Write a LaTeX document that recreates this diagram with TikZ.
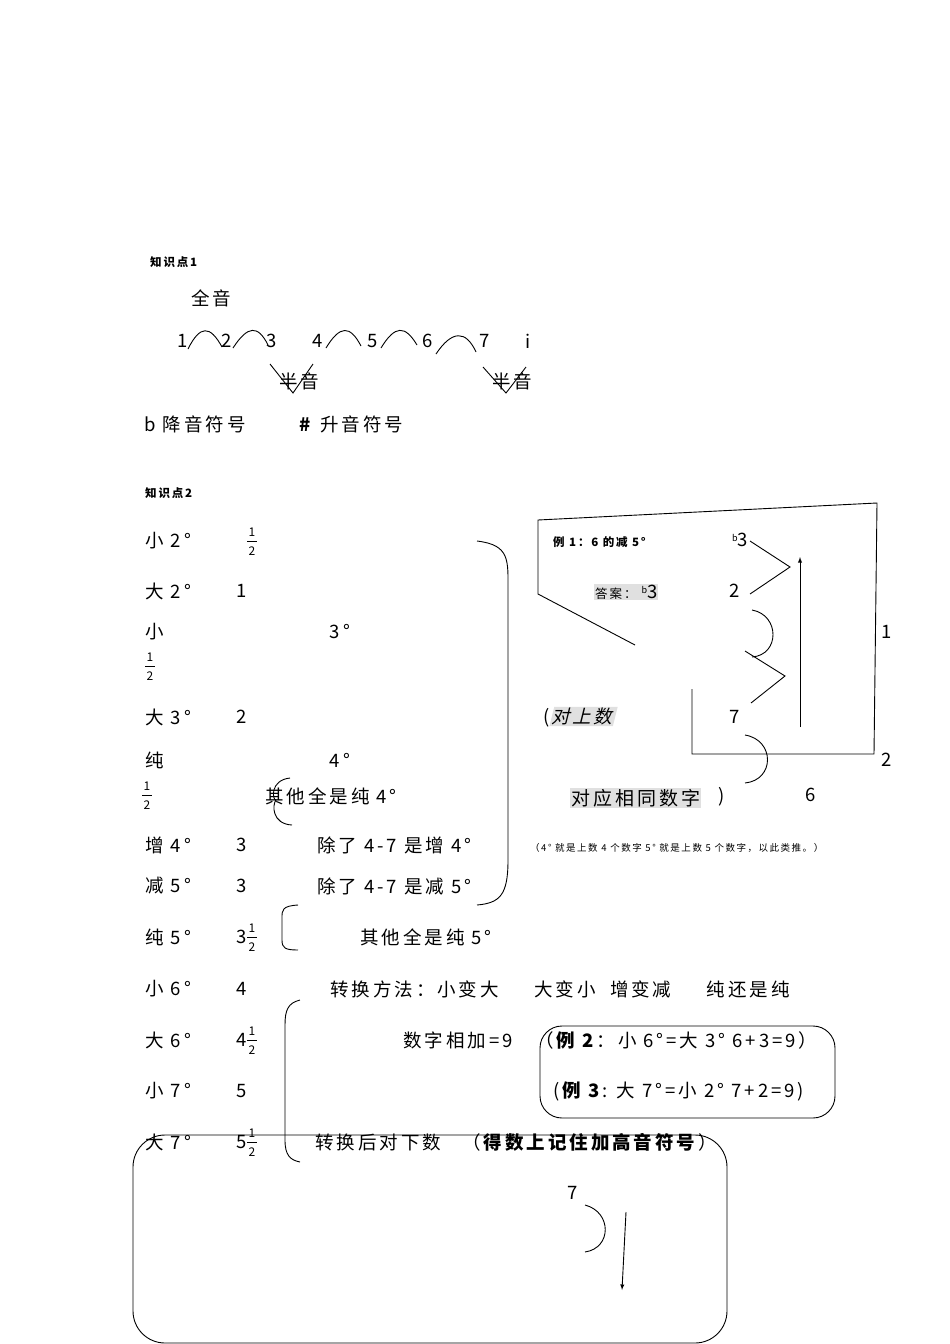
\documentclass[tikz,border=0pt]{standalone}
\usepackage{fontspec}
\setmainfont[LetterSpace=16]{Noto Sans CJK SC}
\begin{document}
\begin{tikzpicture}[x=1pt,y=-1pt,
  t/.style={anchor=west,inner sep=0pt,font=\fontsize{18.5}{20}\selectfont},
  tc/.style={inner sep=0pt,font=\fontsize{18.5}{20}\selectfont},
  sm/.style={anchor=west,inner sep=0pt,font=\fontsize{11.5}{13}\selectfont\bfseries},
  ln/.style={line width=0.9pt},
  hl/.style={fill=black!12,inner sep=1pt}]
\useasboundingbox (0,0) rectangle (950,1344);
\newcommand{\frc}[2]{\node[inner sep=0pt,font=\fontsize{12}{12}\selectfont] at (#1,#2-9) {1};\draw (#1-5,#2) -- (#1+5,#2);\node[inner sep=0pt,font=\fontsize{12}{12}\selectfont] at (#1,#2+10) {2};}
% section 1
\node[sm] (k1) at (150,262) {知识点1};
\node[t] (qy) at (191,298) {全音};
\foreach \x/\n [count=\i] in {183/1,227/2,272/3,318/4,373/5,428/6,485/7,528/i}
  \node[tc] (n\i) at (\x,341) {\n};
\draw[ln] (188,349) .. controls (200,325) and (210,325) .. (222,347);
\draw[ln] (233,348) .. controls (248,325) and (258,325) .. (268,345);
\draw[ln] (326,348) .. controls (340,325) and (350,325) .. (361,346);
\draw[ln] (381,348) .. controls (395,325) and (405,325) .. (417,345);
\draw[ln] (436,354) .. controls (452,330) and (466,330) .. (476,352);
\node[tc] (by1) at (299,381) {半音};
\node[tc] (by2) at (512,381) {半音};
\draw[ln] (270,364) -- (293,393) -- (313,364);
\draw[ln] (483,367) -- (506,393) -- (526,367);
\node[t] (b) at (144,424) {b\ 降音符号};
\node[t] (sh) at (299,424) {\textbf{\#}\ 升音符号};
% section 2
\node[sm] (k2) at (145,493) {知识点2};
\foreach \y/\a [count=\i] in {541/小 2°,591/大 2°,632/小,717/大 3°,760/纯,845/增 4°,886/减 5°,937/纯 5°,989/小 6°,1040/大 6°,1091/小 7°,1142/大 7°}
  \node[t] (L\i) at (145,\y) {\a};
\frc{252}{541}
\node[tc] (v2) at (242,591) {1};
\node[tc] (v3) at (340,632) {3°};
\frc{150}{666}
\node[tc] (v4) at (242,717) {2};
\node[tc] (v5) at (340,760) {4°};
\frc{147}{795}
\node[t] (q4) at (265,796) {其他全是纯 4°};
\draw[ln] (290,778) .. controls (270,780) and (272,800) .. (276,800) .. controls (272,805) and (272,824) .. (292,825);
\node[tc] (v6) at (242,845) {3};
\node[t] (c1) at (317,845) {除了 4-7 是增 4°};
\node[tc] (v7) at (242,886) {3};
\node[t] (c2) at (317,886) {除了 4-7 是减 5°};
\node[tc] (v8) at (242,937) {3};
\frc{252}{937}
\draw[ln] (298,905) .. controls (282,906) and (282,910) .. (282,918) -- (282,940) .. controls (282,948) and (285,950) .. (298,950);
\node[t] (q5) at (360,937) {其他全是纯 5°};
\draw[ln] (477,541) .. controls (510,545) and (508,560) .. (508,590) -- (508,860) .. controls (508,895) and (500,903) .. (477,905);
\node[tc] (v9) at (242,989) {4};
\node[t] (zh) at (330,989) {转换方法：小变大\ \ \ \ \ 大变小\ \ 增变减\ \ \ \ \ 纯还是纯};
\node[tc] (v10) at (242,1040) {4}; \frc{252}{1040}
\node[t] (sj) at (403,1040) {数字相加=9};
\node[t] (e2) at (535,1040) {（\textbf{例 2}：小 6°=大 3° 6+3=9）};
\node[tc] (v11) at (242,1091) {5};
\node[t] (e3) at (553,1091) {(\textbf{例 3}: 大 7°=小 2° 7+2=9)};
\node[tc] (v12) at (242,1142) {5}; \frc{252}{1142}
\node[t] (zd) at (315,1142) {转换后对下数\ \ \ （\textbf{得数上记住加高音符号}）};
\draw[ln] (300,1000) .. controls (288,1003) and (285,1010) .. (285,1025) -- (285,1140) .. controls (285,1155) and (290,1160) .. (300,1162);
\draw[ln,rounded corners=22pt] (540,1026) rectangle (835,1118);
\draw[ln,rounded corners=32pt] (133,1135) rectangle (727,1343);
\node[tc] (s7) at (573,1193) {7};
\draw[ln] (585,1205) .. controls (612,1212) and (612,1248) .. (585,1252);
\coordinate (a1) at (626,1212); \coordinate (a2) at (622,1290);
\draw[ln,-latex] (a1) -- (a2);
% right example
\draw[ln] (692,689) -- (692,754) -- (874,754) -- (877,503) -- (538,520) -- (538,594) -- (635,645);
\node[sm] (e1) at (553,542) {例 1：6 的减 5°};
\node[tc] (b3) at (740,540) {\raisebox{5pt}{\fontsize{9}{9}\selectfont b}3};
\node[tc] (r2) at (735,591) {2};
\node[anchor=west,hl,font=\fontsize{12.5}{14}\selectfont] (ans) at (594,592) {答案：\ \raisebox{5pt}{\fontsize{9}{9}\selectfont b}{\fontsize{18.5}{20}\selectfont 3}};
\draw[ln] (750,541) -- (790,567) -- (750,594);
\coordinate (u1) at (800,727); \coordinate (u2) at (800,557);
\draw[ln,-latex] (u1) -- (u2);
\draw[ln] (752,610) .. controls (780,615) and (780,655) .. (752,657);
\draw[ln] (745,651) -- (785,676) -- (751,703);
\node[tc] (r7) at (735,717) {7};
\draw[ln] (745,735) .. controls (775,740) and (775,780) .. (745,783);
\node[tc] (o1) at (887,632) {1};
\node[tc] (o2) at (887,760) {2};
\node[tc] (o6) at (811,795) {6};
\node[anchor=west,inner sep=0pt,font=\fontsize{18.5}{20}\selectfont] (ds) at (543,717) {(\tikz[baseline]\node[hl,xslant=0.25,anchor=base,inner sep=1pt]{对上数};};
\node[anchor=west,hl,font=\fontsize{19}{20}\selectfont] (dy) at (570,798) {对应相同数字};
\node[tc] (rp) at (722,797) {)};
\node[anchor=west,inner sep=0pt,font=\fontsize{9.5}{10}\selectfont] (nt) at (530,848) {（4° 就是上数 4 个数字 5° 就是上数 5 个数字，以此类推。）};
\end{tikzpicture}
\end{document}
